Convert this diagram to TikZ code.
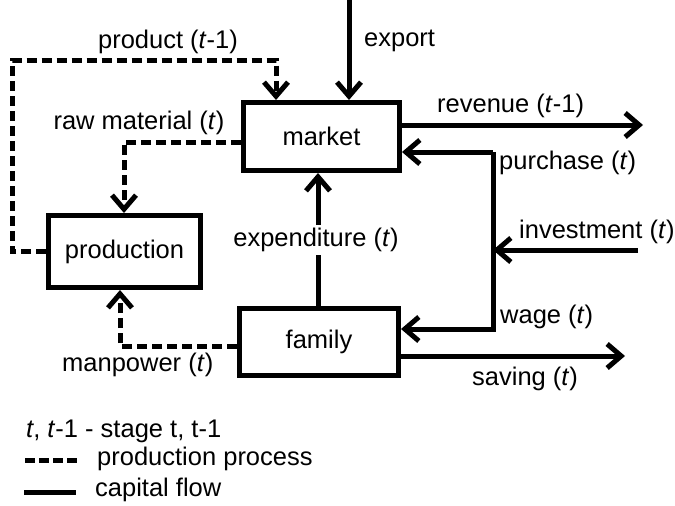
\documentclass[tikz,border=0pt]{standalone}
\usepackage{fontspec}
\setmainfont{Liberation Sans}
\usetikzlibrary{arrows.meta}
\begin{document}
\begin{tikzpicture}[x=1pt,y=-1pt,
  every node/.style={font=\fontsize{25.5}{30}\selectfont, inner sep=3pt},
  box/.style={draw, line width=5pt, minimum width=#1, minimum height=68pt},
  flow/.style={line width=5pt, -{Straight Barb[length=14pt,width=24pt,line width=5pt]}},
  prod/.style={flow, dash pattern=on 10pt off 5pt},
  plain/.style={line width=5pt},
  lbl/.style={anchor=west}
]
\useasboundingbox (0,0) rectangle (675,506);
% boxes
\node[box=156pt] (market) at (321.5,136.5) {market};
\node[box=152pt, minimum height=72pt] (production) at (124.5,251.5) {production};
\node[box=159pt, minimum height=67pt] (family) at (319,342) {family};
% labels
\node[lbl] (exportl) at (361,41) {export};
\node (productl) at (168,42) {product (\textit{t}-1)};
\node (rawl) at (139,123) {raw material (\textit{t})};
\node[lbl] (revl) at (434,106) {revenue (\textit{t}-1)};
\node[lbl] (purl) at (496,163) {purchase (\textit{t})};
\node[lbl] (invl) at (516,232) {investment (\textit{t})};
\node[lbl] (wagel) at (497,317) {wage (\textit{t})};
\node[lbl] (savl) at (469,379) {saving (\textit{t})};
\node[lbl] (manl) at (59,365) {manpower (\textit{t})};
\node (expl) at (316,240) {expenditure (\textit{t})};
% coordinates
\coordinate (exptop) at (349,0);
\coordinate (revend) at (643,125);
\coordinate (pj) at (493,152);
\coordinate (wj) at (493,329);
\coordinate (invs) at (638,250);
\coordinate (savend) at (625,356);
\coordinate (ex) at (318,0);
\coordinate (pc1) at (12,60);
\coordinate (pc2) at (276,60);
\coordinate (rm) at (124,142);
\coordinate (mp) at (120,346);
% capital flows
\draw[flow] (exptop) -- (exptop |- market.north);
\draw[flow] (market.east |- revend) -- (revend);
\draw[flow] (pj) -- (market.east |- pj);
\draw[flow, line join=miter] (pj) -- (wj) -- (family.east |- wj);
\draw[flow] (invs) -- (wj |- invs);
\draw[flow] (family.east |- savend) -- (savend);
\draw[plain] (ex |- family.north) -- (ex |- expl.south);
\draw[flow] (ex |- expl.north) -- (ex |- market.south);
% production process
\draw[prod, line join=miter] (production.west) -| (pc1) -- (pc2) -- (pc2 |- market.north);
\draw[prod, line join=miter] (market.west |- rm) -- (rm) -- (rm |- production.north);
\draw[prod, line join=miter] (family.west |- mp) -- (mp) -- (mp |- production.south);
% legend
\node[lbl] (leg1) at (23,431) {\textit{t}, \textit{t}-1 - stage t, t-1};
\coordinate (d1) at (25,460);
\coordinate (d2) at (78,460);
\coordinate (s1) at (24,492);
\coordinate (s2) at (76,492);
\draw[plain, dash pattern=on 10pt off 4pt] (d1) -- (d2);
\draw[plain] (s1) -- (s2);
\node[lbl] (leg2) at (94,459) {production process};
\node[lbl] (leg3) at (92,490) {capital flow};
\end{tikzpicture}
\end{document}
